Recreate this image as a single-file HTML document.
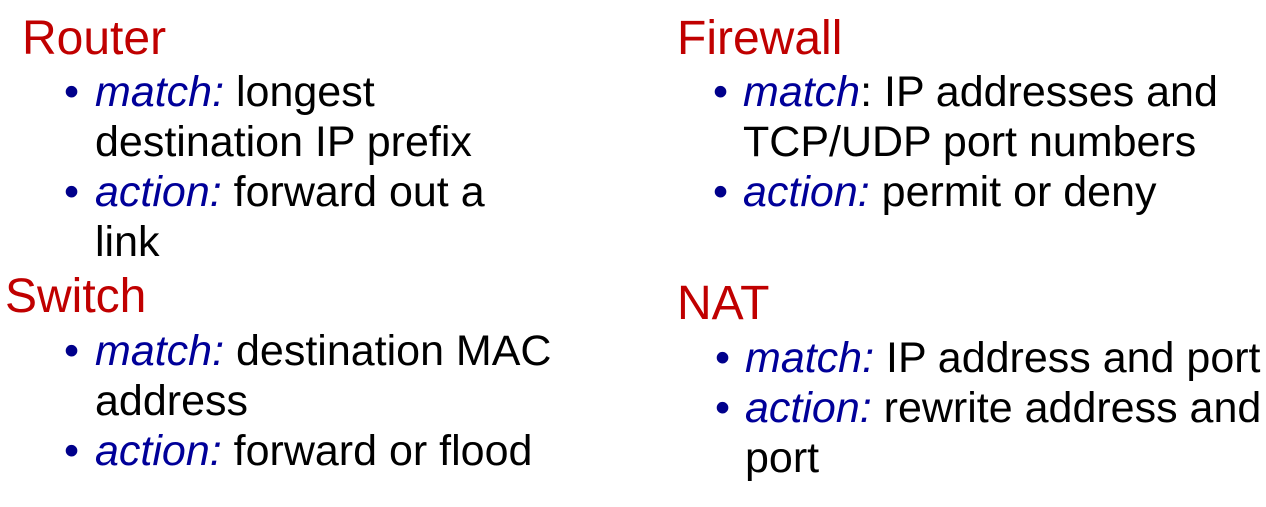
<!DOCTYPE html>
<html><head><meta charset="utf-8"><style>
body{margin:0;width:1266px;height:507px;background:#fff;position:relative;overflow:hidden;font-family:"Liberation Sans",sans-serif}
.h{position:absolute;font-size:48px;line-height:48px;color:#c00000;white-space:nowrap}
.l{position:absolute;font-size:43px;line-height:43px;color:#000;white-space:nowrap}
.b{position:absolute;font-size:43px;line-height:43px;color:#00008b;white-space:nowrap}
i{color:#000099}
</style></head><body>
<div class="h" style="left:22px;top:15px">Router</div>
<div class="b" style="left:64px;top:71px">•</div>
<div class="l" style="left:95px;top:71px"><i>match:</i> longest</div>
<div class="l" style="left:95px;top:121px">destination IP prefix</div>
<div class="b" style="left:64px;top:171px">•</div>
<div class="l" style="left:95px;top:171px"><i>action:</i> forward out a</div>
<div class="l" style="left:95px;top:221px">link</div>

<div class="h" style="left:5px;top:273px">Switch</div>
<div class="b" style="left:64px;top:330px">•</div>
<div class="l" style="left:95px;top:330px"><i>match:</i> destination MAC</div>
<div class="l" style="left:95px;top:380px">address</div>
<div class="b" style="left:64px;top:430px">•</div>
<div class="l" style="left:95px;top:430px"><i>action:</i> forward or flood</div>

<div class="h" style="left:677px;top:15px">Firewall</div>
<div class="b" style="left:713px;top:71px">•</div>
<div class="l" style="left:743px;top:71px"><i>match</i>: IP addresses and</div>
<div class="l" style="left:743px;top:121px">TCP/UDP port numbers</div>
<div class="b" style="left:713px;top:171px">•</div>
<div class="l" style="left:743px;top:171px"><i>action:</i> permit or deny</div>

<div class="h" style="left:677px;top:280px">NAT</div>
<div class="b" style="left:715px;top:337px">•</div>
<div class="l" style="left:745px;top:337px"><i>match:</i> IP address and port</div>
<div class="b" style="left:715px;top:387px">•</div>
<div class="l" style="left:745px;top:387px"><i>action:</i> rewrite address and</div>
<div class="l" style="left:745px;top:437px">port</div>
</body></html>
